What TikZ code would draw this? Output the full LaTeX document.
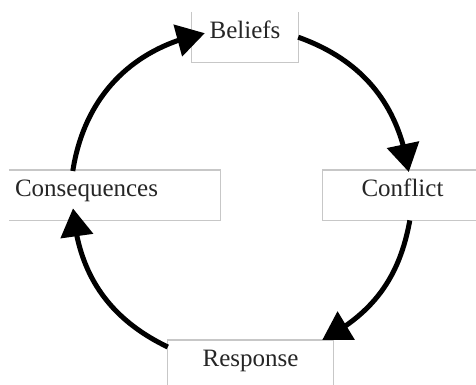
\documentclass[tikz,border=0pt]{standalone}
\usepackage{fontspec}
\setmainfont{Liberation Serif}
\usetikzlibrary{arrows.meta,bending}
\begin{document}
\begin{tikzpicture}[x=1pt,y=1pt,
  stage/.style={draw=none, inner xsep=0pt, inner ysep=0pt, text height=26.3pt, text depth=23.7pt,
    font=\fontsize{25}{30}\selectfont, text=black!85, anchor=north},
  edge/.style={draw=black!22, line width=1.2pt},
  cyc/.style={line width=5pt, -{Triangle[length=28pt,width=32pt]}}]
\useasboundingbox (0,0) rectangle (476,385);
\clip (0,0) rectangle (476,385);
\fill[white] (0,0) rectangle (476,385);
\node[stage, minimum width=106pt] (B) at (245,373) {Beliefs};
\node[stage, minimum width=211pt, inner xsep=6pt, text width=199pt, align=left] (C) at (114.5,215) {Consequences};
\node[stage, minimum width=159pt] (F) at (402.5,215) {Conflict};
\node[stage, minimum width=165pt] (R) at (250.5,45) {Response};
\draw[edge] (B.north west) -- (B.south west) -- (B.south east) -- (B.north east);
\draw[edge] (C.north west) -- (C.north east) -- (C.south east) -- (C.south west);
\draw[edge] (F.north east) -- (F.north west) -- (F.south west) -- (F.south east);
\draw[edge] (R.south west) -- (R.north west) -- (R.north east) -- (R.south east);
\draw[cyc] (B.east) to[bend left=31] ([xshift=86pt,yshift=-2pt]F.north west);
\draw[cyc] ([xshift=87pt]F.south west) to[bend left=26] ([xshift=-11pt]R.north east);
\draw[cyc] ([yshift=-7pt]R.north west) to[bend left=30] ([xshift=-41.5pt,yshift=12pt]C.south);
\draw[cyc] ([xshift=64pt,yshift=-1pt]C.north west) to[bend left=35] ([xshift=13pt,yshift=4pt]B.west);
\end{tikzpicture}
\end{document}
